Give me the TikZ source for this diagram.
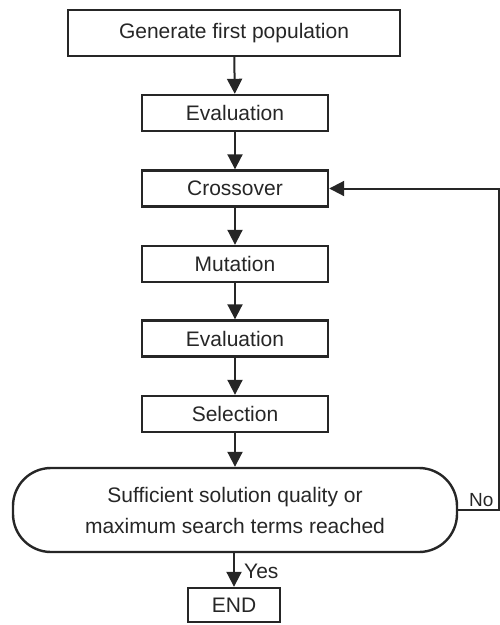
\documentclass[tikz,border=0pt]{standalone}
\usepackage{fontspec}
\setmainfont{Liberation Sans}
\usetikzlibrary{arrows.meta}
\begin{document}
\begin{tikzpicture}[x=1pt,y=-1pt,
  box/.style={draw=black!85,line width=2.4pt,inner sep=0pt,minimum height=36pt,font=\fontsize{21}{25}\selectfont,text=black!85},
  arr/.style={draw=black!85,line width=2pt,-{Triangle[length=15pt,width=15pt]}},
  lbl/.style={inner sep=0pt,font=\fontsize{19}{22}\selectfont,text=black!85}]
\useasboundingbox (0,0) rectangle (500,625);
\node[box,minimum width=332pt,minimum height=46pt] (gen) at (234,33) {Generate first population};
\node[box,minimum width=186pt] (ev1) at (235,113) {Evaluation};
\node[box,minimum width=186pt] (cro) at (235,188.5) {Crossover};
\node[box,minimum width=186pt] (mut) at (235,264) {Mutation};
\node[box,minimum width=186pt] (ev2) at (235,338.5) {Evaluation};
\node[box,minimum width=186pt] (sel) at (235,414) {Selection};
\node[box,minimum width=444pt,minimum height=84pt,rounded corners=38pt,align=center,font=\fontsize{21}{31}\selectfont] (dec) at (235,510) {Sufficient solution quality or\\maximum search terms reached};
\node[box,minimum width=92pt,minimum height=34pt] (end) at (234,605) {END};
\draw[arr] (gen) -- (ev1);
\draw[arr] (ev1) -- (cro);
\draw[arr] (cro) -- (mut);
\draw[arr] (mut) -- (ev2);
\draw[arr] (ev2) -- (sel);
\draw[arr] (sel) -- (dec);
\draw[arr] (dec.south -| end.north) -- (end.north);
\coordinate (c1) at (499,510);
\draw[arr] (dec.east) -- (c1) |- (cro.east);
\node[lbl,anchor=base west] (no) at (469,506) {No};
\node[lbl,anchor=base west,font=\fontsize{21}{24}\selectfont] (yes) at (244,578) {Yes};
\end{tikzpicture}
\end{document}
